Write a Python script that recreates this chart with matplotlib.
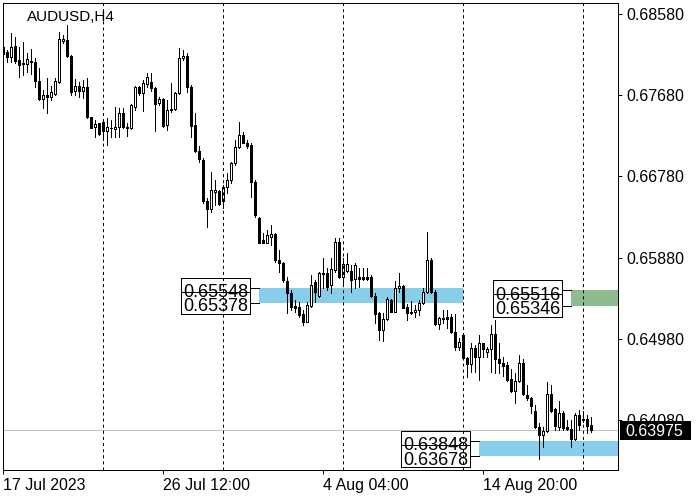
import matplotlib
matplotlib.use('Agg')
import matplotlib.pyplot as plt
from matplotlib.patches import Rectangle

plt.rcParams['font.family'] = ['Liberation Sans', 'DejaVu Sans']
plt.rcParams['lines.scale_dashes'] = False

symbol_title = "AUDUSD,H4"

opens = [0.68215, 0.68153, 0.68097, 0.68226, 0.68068, 0.68031, 0.68024, 0.68053, 0.68046, 0.67832,
         0.67638, 0.67680, 0.67659, 0.67687, 0.67827, 0.68281, 0.68289, 0.68112, 0.67724, 0.67780,
         0.67724, 0.67765, 0.67436, 0.67322, 0.67366, 0.67377, 0.67284, 0.67315, 0.67300, 0.67329,
         0.67477, 0.67329, 0.67311, 0.67551, 0.67765, 0.67705, 0.67798, 0.67820, 0.67754, 0.67588,
         0.67632, 0.67344, 0.67514, 0.67522, 0.67699, 0.68087, 0.68112, 0.67772, 0.67348, 0.67063,
         0.66960, 0.66510, 0.66414, 0.66606, 0.66613, 0.66506, 0.66658, 0.66736, 0.66923, 0.67101,
         0.67237, 0.67152, 0.67126, 0.66720, 0.66314, 0.66074, 0.66044, 0.66104, 0.66137, 0.65853,
         0.65823, 0.65620, 0.65490, 0.65347, 0.65336, 0.65251, 0.65169, 0.65347, 0.65612, 0.65457,
         0.65705, 0.65705, 0.65575, 0.65742, 0.66049, 0.65668, 0.65731, 0.65731, 0.65642, 0.65664,
         0.65664, 0.65661, 0.65664, 0.65457, 0.65262, 0.65072, 0.65196, 0.65410, 0.65280, 0.65542,
         0.65565, 0.65336, 0.65273, 0.65273, 0.65299, 0.65373, 0.65501, 0.65853, 0.65501, 0.65140,
         0.65207, 0.65225, 0.65225, 0.65052, 0.64893, 0.65022, 0.64771, 0.64698, 0.64878, 0.64782,
         0.64930, 0.64831, 0.64864, 0.65033, 0.64753, 0.64715, 0.64689, 0.64531, 0.64406, 0.64513,
         0.64715, 0.64358, 0.64321, 0.64184, 0.64000, 0.63915, 0.63959, 0.64369, 0.64199, 0.64007,
         0.64154, 0.64000, 0.63978, 0.63866, 0.64135, 0.64091, 0.64088, 0.64025]
highs = [0.68270, 0.68178, 0.68367, 0.68326, 0.68215, 0.68270, 0.68141, 0.68186, 0.68087, 0.67976,
         0.67735, 0.67865, 0.67780, 0.67865, 0.68381, 0.68345, 0.68455, 0.68123, 0.67860, 0.67827,
         0.67846, 0.67865, 0.67440, 0.67403, 0.67373, 0.67403, 0.67425, 0.67403, 0.67544, 0.67532,
         0.67532, 0.67366, 0.67580, 0.67780, 0.67780, 0.67846, 0.67920, 0.67920, 0.67772, 0.67661,
         0.67647, 0.67624, 0.67809, 0.67716, 0.68197, 0.68178, 0.68148, 0.67791, 0.67477, 0.67118,
         0.66982, 0.66539, 0.66830, 0.66739, 0.66628, 0.66683, 0.66816, 0.66941, 0.67182, 0.67381,
         0.67270, 0.67182, 0.67145, 0.66739, 0.66332, 0.66152, 0.66185, 0.66240, 0.66152, 0.65963,
         0.65834, 0.65668, 0.65520, 0.65410, 0.65391, 0.65299, 0.65391, 0.65686, 0.65631, 0.65716,
         0.65871, 0.65760, 0.65871, 0.66096, 0.66096, 0.65871, 0.65926, 0.65797, 0.65816, 0.65768,
         0.65760, 0.65760, 0.65686, 0.65484, 0.65277, 0.65262, 0.65446, 0.65421, 0.65620, 0.65705,
         0.65575, 0.65362, 0.65399, 0.65354, 0.65410, 0.65542, 0.66166, 0.65871, 0.65520, 0.65225,
         0.65299, 0.65299, 0.65251, 0.65254, 0.64985, 0.65041, 0.64782, 0.64930, 0.64915, 0.65022,
         0.64937, 0.64893, 0.65133, 0.65188, 0.64930, 0.64775, 0.64726, 0.64642, 0.64597, 0.64800,
         0.64753, 0.64469, 0.64339, 0.64247, 0.64044, 0.64000, 0.64505, 0.64469, 0.64210, 0.64294,
         0.64184, 0.64081, 0.64081, 0.64154, 0.64191, 0.64184, 0.64136, 0.64117]
lows = [0.68112, 0.68049, 0.68049, 0.68031, 0.67876, 0.67902, 0.67938, 0.67913, 0.67765, 0.67624,
        0.67532, 0.67484, 0.67624, 0.67680, 0.67816, 0.68252, 0.68104, 0.67680, 0.67680, 0.67659,
        0.67647, 0.67422, 0.67311, 0.67218, 0.67237, 0.67182, 0.67126, 0.67218, 0.67218, 0.67218,
        0.67311, 0.67226, 0.67300, 0.67514, 0.67680, 0.67506, 0.67772, 0.67727, 0.67284, 0.67569,
        0.67329, 0.67292, 0.67495, 0.67514, 0.67687, 0.68068, 0.67716, 0.67211, 0.67052, 0.66941,
        0.66484, 0.66218, 0.66387, 0.66462, 0.66462, 0.66429, 0.66595, 0.66705, 0.66905, 0.67090,
        0.67145, 0.67093, 0.66554, 0.66329, 0.66037, 0.66037, 0.66037, 0.66019, 0.65834, 0.65723,
        0.65612, 0.65262, 0.65299, 0.65273, 0.65225, 0.65133, 0.65162, 0.65336, 0.65391, 0.65446,
        0.65542, 0.65520, 0.65488, 0.65723, 0.65650, 0.65575, 0.65723, 0.65498, 0.65542, 0.65557,
        0.65631, 0.65631, 0.65446, 0.65151, 0.64967, 0.64956, 0.65188, 0.65273, 0.65273, 0.65501,
        0.65317, 0.65188, 0.65251, 0.65225, 0.65243, 0.65362, 0.65484, 0.65484, 0.65133, 0.65088,
        0.65155, 0.65096, 0.65041, 0.64856, 0.64856, 0.64756, 0.64560, 0.64612, 0.64612, 0.64524,
        0.64782, 0.64782, 0.64615, 0.64597, 0.64597, 0.64567, 0.64516, 0.64394, 0.64272, 0.64505,
        0.64358, 0.64302, 0.64154, 0.63989, 0.63645, 0.63778, 0.63951, 0.64173, 0.63970, 0.63970,
        0.63970, 0.63970, 0.63784, 0.63859, 0.63970, 0.64062, 0.63940, 0.63951]
closes = [0.68134, 0.68097, 0.68208, 0.68060, 0.68009, 0.68020, 0.68076, 0.68050, 0.67832, 0.67638,
          0.67680, 0.67654, 0.67716, 0.67835, 0.68297, 0.68300, 0.68112, 0.67716, 0.67780, 0.67728,
          0.67765, 0.67436, 0.67318, 0.67359, 0.67245, 0.67281, 0.67329, 0.67311, 0.67329, 0.67477,
          0.67329, 0.67314, 0.67569, 0.67765, 0.67698, 0.67809, 0.67876, 0.67754, 0.67580, 0.67632,
          0.67337, 0.67514, 0.67522, 0.67699, 0.68087, 0.68112, 0.67772, 0.67337, 0.67063, 0.66968,
          0.66510, 0.66414, 0.66628, 0.66628, 0.66473, 0.66658, 0.66739, 0.66923, 0.67101, 0.67237,
          0.67152, 0.67115, 0.66720, 0.66351, 0.66044, 0.66044, 0.66129, 0.66137, 0.65853, 0.65823,
          0.65631, 0.65490, 0.65336, 0.65325, 0.65243, 0.65169, 0.65354, 0.65575, 0.65501, 0.65705,
          0.65700, 0.65557, 0.65750, 0.66049, 0.65659, 0.65805, 0.65805, 0.65631, 0.65797, 0.65642,
          0.65642, 0.65642, 0.65457, 0.65251, 0.65077, 0.65196, 0.65421, 0.65280, 0.65542, 0.65565,
          0.65325, 0.65262, 0.65262, 0.65299, 0.65373, 0.65501, 0.65853, 0.65501, 0.65140, 0.65207,
          0.65203, 0.65199, 0.65052, 0.64893, 0.64948, 0.64764, 0.64698, 0.64878, 0.64782, 0.64930,
          0.64864, 0.64864, 0.65033, 0.64753, 0.64708, 0.64678, 0.64524, 0.64402, 0.64513, 0.64715,
          0.64369, 0.64321, 0.64235, 0.64000, 0.63915, 0.63959, 0.64369, 0.64184, 0.64014, 0.64154,
          0.63989, 0.63978, 0.63866, 0.64135, 0.64025, 0.64086, 0.64014, 0.63975]

current_price = 0.63975

# zones (price range, bar index where they start / end; None = to the right edge)
zone_top = [0.65548, 0.65516, 0.63848]
zone_bottom = [0.65378, 0.65346, 0.63678]
zone_from_bar = [64, 142, 119]
zone_to_bar = [115, None, None]
zone_color = ['#87CEEB', '#8FBC8F', '#87CEEB']

xtick_bars = [0, 40, 80, 120]
xtick_labels = ['17 Jul 2023', '26 Jul 12:00', '4 Aug 04:00', '14 Aug 20:00']
grid_bars = [25, 55, 85, 115, 145]
ytick_values = [0.64080, 0.64980, 0.65880, 0.66780, 0.67680, 0.68580]

W, H = 700, 500
fig = plt.figure(figsize=(7, 5), dpi=100)
ax_l, ax_r, ax_t, ax_b = 3, 618, 3, 470
ax = fig.add_axes([ax_l / W, 1 - ax_b / H, (ax_r - ax_l) / W, (ax_b - ax_t) / H])
ax.set_facecolor('white')

bars_per_px = 0.25
x0 = -0.075
x1 = x0 + (ax_r - ax_l) * bars_per_px
y0, y1 = 0.63527, 0.68699
ax.set_xlim(x0, x1)
ax.set_ylim(y0, y1)
pp = (y1 - y0) / (ax_b - ax_t)  # price per pixel
px = bars_per_px                  # bars per pixel
LW = 0.72

n = len(opens)
xs = list(range(n))

# current price line
ax.axhline(current_price, color='#C0C0C0', lw=LW, zorder=1)

# zones
for t, b, s, e, c in zip(zone_top, zone_bottom, zone_from_bar, zone_to_bar, zone_color):
    end = x1 + 1 if e is None else e
    ax.add_patch(Rectangle((s, b), end - s, t - b, facecolor=c, edgecolor='none', zorder=1.5))

# candles
ax.vlines(xs, lows, highs, color='black', lw=LW, zorder=3, antialiased=False)
bottoms = [min(o, c) for o, c in zip(opens, closes)]
heights = [abs(c - o) for o, c in zip(opens, closes)]
faces = ['white' if c >= o else 'black' for o, c in zip(opens, closes)]
ax.bar(xs, heights, bottom=bottoms, width=0.5, color=faces, edgecolor='black',
       linewidth=LW, zorder=4, antialiased=False)

# zone labels
for t, b, s in zip(zone_top, zone_bottom, zone_from_bar):
    bl = s - 78 * px
    br = s - 9.5 * px
    btop = t + 10 * pp
    bbot = b - 10.8 * pp
    ax.add_patch(Rectangle((bl, bbot), br - bl, btop - bbot, facecolor='white',
                           edgecolor='black', lw=LW, zorder=5, antialiased=False))
    ax.plot([bl, br], [t - 4 * pp, t - 4 * pp], color='black', lw=LW, zorder=6, antialiased=False)
    ax.plot([br, s], [t, t], color='black', lw=LW, zorder=6, antialiased=False)
    ax.plot([br, s], [b, b], color='black', lw=LW, zorder=6, antialiased=False)
    ax.text(bl + 1.5 * px, t - 9.3 * pp, f'{t:.5f}', fontsize=13, ha='left', va='baseline',
            color='black', zorder=7)
    ax.text(bl + 1.5 * px, b - 8.5 * pp, f'{b:.5f}', fontsize=13, ha='left', va='baseline',
            color='black', zorder=7)

# dashed grid
for g in grid_bars:
    ax.axvline(g, color='black', lw=LW, ls=(0, (2.2, 2.2)), zorder=5.5)

# axes styling
for sp in ax.spines.values():
    sp.set_linewidth(LW)
    sp.set_color('black')
ax.yaxis.tick_right()
ax.set_yticks(ytick_values)
ax.set_yticklabels([f'{v:.5f}' for v in ytick_values])
ax.set_xticks(xtick_bars)
ax.set_xticklabels(xtick_labels, ha='left')
ax.tick_params(axis='y', direction='out', length=3, width=LW, pad=3, labelsize=11.5, colors='black')
ax.tick_params(axis='x', direction='out', length=3, width=LW, pad=3, labelsize=11.5, colors='black')

# title
fig.text(26.5 / W, 1 - 20.7 / H, symbol_title, fontsize=11, ha='left', va='baseline', color='black')

# current price tag
fig.patches.append(Rectangle((620 / W, 1 - 439.5 / H), 71 / W, 19 / H, transform=fig.transFigure,
                             facecolor='black', edgecolor='none', zorder=10))
fig.text(625.5 / W, 1 - 435.5 / H, f'{current_price:.5f}', fontsize=11.5, ha='left',
         va='baseline', color='white', zorder=11)

fig.savefig('out.png', dpi=100, facecolor='white')
